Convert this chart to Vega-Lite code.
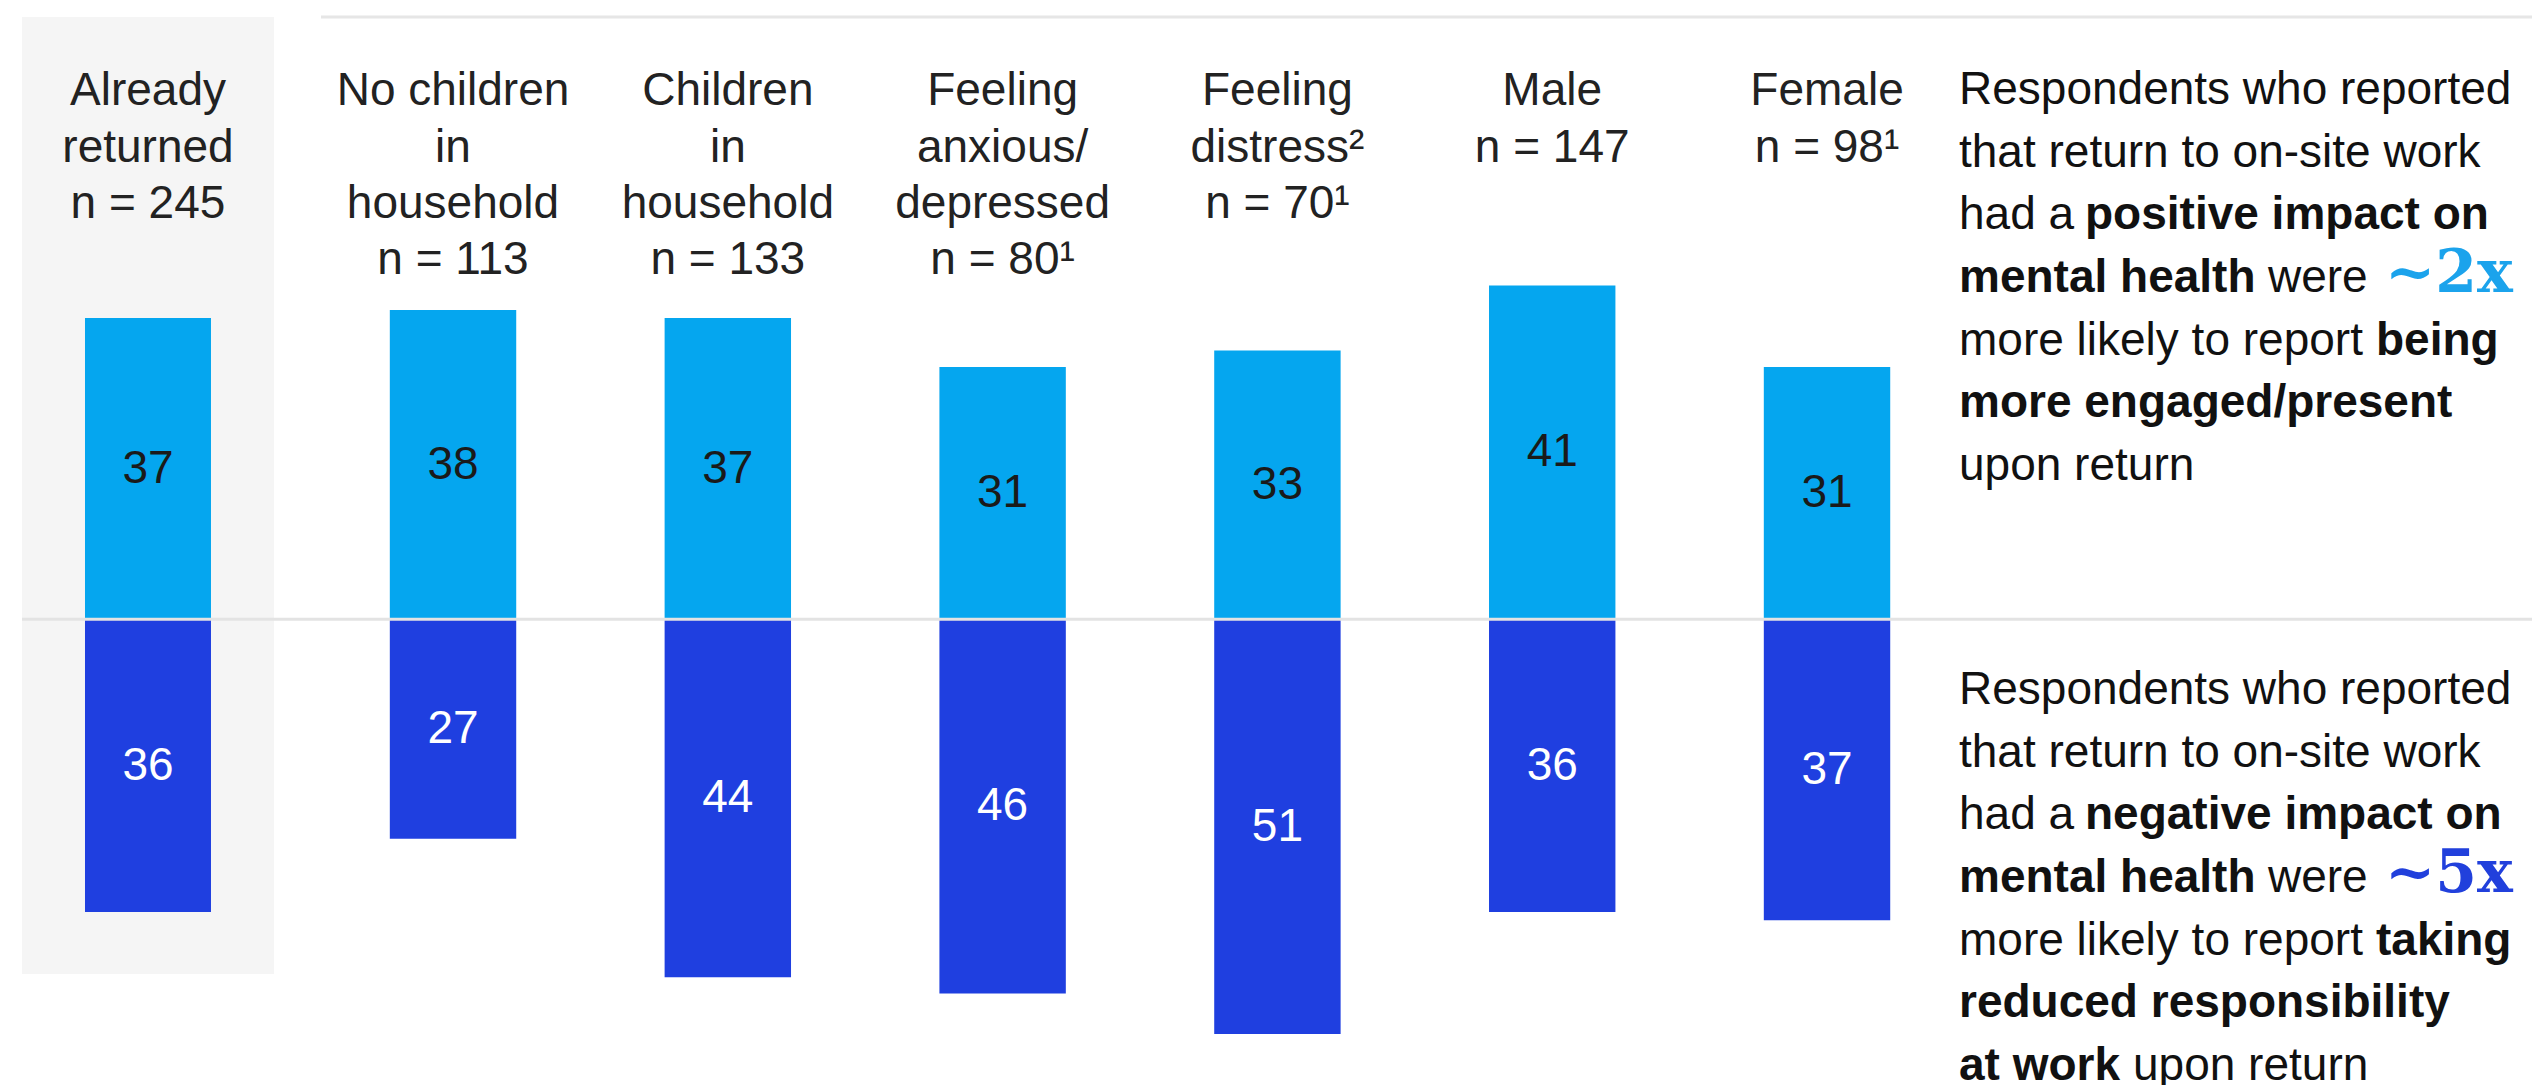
{
  "$schema": "https://vega.github.io/schema/vega-lite/v6.json",
  "padding": {"left": 20, "top": 15, "right": 0, "bottom": 0},
  "background": "white",
  "spacing": 0,
  "bounds": "flush",
  "config": {
    "view": {"stroke": null},
    "font": "Liberation Sans",
    "style": {
      "note": {"align": "left", "baseline": "alphabetic", "fontSize": 46, "lineHeight": 62.7, "color": "#111111", "fontWeight": "normal"},
      "noteb": {"align": "left", "baseline": "alphabetic", "fontSize": 46, "lineHeight": 62.7, "color": "#111111", "fontWeight": "bold"},
      "big": {"align": "left", "baseline": "alphabetic", "fontSize": 60, "font": "DejaVu Serif", "fontWeight": "bold"}
    }
  },
  "datasets": {
    "bars": [
      {"group": "Already returned", "impact": "Positive", "value": 37},
      {"group": "Already returned", "impact": "Negative", "value": 36},
      {"group": "No children in household", "impact": "Positive", "value": 38},
      {"group": "No children in household", "impact": "Negative", "value": 27},
      {"group": "Children in household", "impact": "Positive", "value": 37},
      {"group": "Children in household", "impact": "Negative", "value": 44},
      {"group": "Feeling anxious/depressed", "impact": "Positive", "value": 31},
      {"group": "Feeling anxious/depressed", "impact": "Negative", "value": 46},
      {"group": "Feeling distress", "impact": "Positive", "value": 33},
      {"group": "Feeling distress", "impact": "Negative", "value": 51},
      {"group": "Male", "impact": "Positive", "value": 41},
      {"group": "Male", "impact": "Negative", "value": 36},
      {"group": "Female", "impact": "Positive", "value": 31},
      {"group": "Female", "impact": "Negative", "value": 37}
    ],
    "headers": [
      {"group": "Already returned", "label": "Already\nreturned\nn = 245"},
      {"group": "No children in household", "label": "No children\nin\nhousehold\nn = 113"},
      {"group": "Children in household", "label": "Children\nin\nhousehold\nn = 133"},
      {"group": "Feeling anxious/depressed", "label": "Feeling\nanxious/\ndepressed\nn = 80¹"},
      {"group": "Feeling distress", "label": "Feeling\ndistress²\nn = 70¹"},
      {"group": "Male", "label": "Male\nn = 147"},
      {"group": "Female", "label": "Female\nn = 98¹"}
    ]
  },
  "hconcat": [
    {
      "width": 299,
      "height": 1070,
      "resolve": {"scale": {"y": "independent"}},
      "layer": [
        {
          "data": {"name": "headers"},
          "transform": [{"filter": "datum.group === 'Already returned'"}],
          "mark": {"type": "rect", "color": "#f5f5f5"},
          "encoding": {
            "x": {"field": "group", "type": "nominal", "axis": null, "scale": {"type": "band", "domain": ["Already returned"], "paddingInner": 0, "paddingOuter": 0.0933, "align": 0, "round": false}},
            "y": {"datum": 74, "type": "quantitative", "axis": null, "scale": {"domain": [-57.5, 74], "nice": false, "zero": false}},
            "y2": {"datum": -43.6}
          }
        },
        {
          "data": {"name": "bars"},
          "transform": [{"filter": "datum.group === 'Already returned' && datum.impact === 'Positive'"}],
          "mark": {"type": "bar", "color": "#05A6EF", "width": {"band": 0.5}},
          "encoding": {
            "x": {"field": "group", "type": "nominal", "axis": null, "scale": {"type": "band", "domain": ["Already returned"], "paddingInner": 0, "paddingOuter": 0.0933, "align": 0, "round": false}},
            "y": {"field": "value", "type": "quantitative", "axis": null, "scale": {"domain": [-57.5, 74], "nice": false, "zero": false}}
          }
        },
        {
          "data": {"name": "bars"},
          "transform": [{"filter": "datum.group === 'Already returned' && datum.impact === 'Negative'"}],
          "mark": {"type": "bar", "color": "#1F3FE0", "width": {"band": 0.5}},
          "encoding": {
            "x": {"field": "group", "type": "nominal", "axis": null, "scale": {"type": "band", "domain": ["Already returned"], "paddingInner": 0, "paddingOuter": 0.0933, "align": 0, "round": false}},
            "y": {"field": "value", "type": "quantitative", "axis": null, "scale": {"domain": [-74, 57.5], "reverse": true, "nice": false, "zero": false}}
          }
        },
        {
          "data": {"values": [{}]},
          "mark": {"type": "rule", "color": "#e3e3e3", "strokeWidth": 3},
          "encoding": {
            "y": {"datum": 0, "type": "quantitative", "axis": null, "scale": {"domain": [-57.5, 74], "nice": false, "zero": false}}
          }
        },
        {
          "data": {"name": "bars"},
          "transform": [{"filter": "datum.group === 'Already returned' && datum.impact === 'Positive'"}],
          "mark": {"type": "text", "fontSize": 46, "color": "#1a1a1a", "baseline": "middle", "align": "center"},
          "encoding": {
            "x": {"field": "group", "type": "nominal", "axis": null, "scale": {"type": "band", "domain": ["Already returned"], "paddingInner": 0, "paddingOuter": 0.0933, "align": 0, "round": false}},
            "y": {"field": "value", "type": "quantitative", "axis": null, "scale": {"domain": [-115, 148], "nice": false, "zero": false}},
            "text": {"field": "value", "type": "quantitative"}
          }
        },
        {
          "data": {"name": "bars"},
          "transform": [{"filter": "datum.group === 'Already returned' && datum.impact === 'Negative'"}],
          "mark": {"type": "text", "fontSize": 46, "color": "#ffffff", "baseline": "middle", "align": "center"},
          "encoding": {
            "x": {"field": "group", "type": "nominal", "axis": null, "scale": {"type": "band", "domain": ["Already returned"], "paddingInner": 0, "paddingOuter": 0.0933, "align": 0, "round": false}},
            "y": {"field": "value", "type": "quantitative", "axis": null, "scale": {"domain": [-148, 115], "reverse": true, "nice": false, "zero": false}},
            "text": {"field": "value", "type": "quantitative"}
          }
        },
        {
          "data": {"name": "headers"},
          "transform": [{"filter": "datum.group === 'Already returned'"}],
          "mark": {"type": "text", "fontSize": 46, "color": "#222222", "align": "center", "baseline": "alphabetic", "lineBreak": "\n", "lineHeight": 56.3},
          "encoding": {
            "x": {"field": "group", "type": "nominal", "axis": null, "scale": {"type": "band", "domain": ["Already returned"], "paddingInner": 0, "paddingOuter": 0.0933, "align": 0, "round": false}},
            "y": {"datum": 63.15, "type": "quantitative", "axis": null, "scale": {"domain": [-57.5, 74], "nice": false, "zero": false}},
            "text": {"field": "label", "type": "nominal"}
          }
        }
      ]
    },
    {
      "width": 1630,
      "height": 1070,
      "resolve": {"scale": {"y": "independent"}},
      "layer": [
        {
          "data": {"values": [{}]},
          "mark": {"type": "rule", "color": "#e6e6e6", "strokeWidth": 3},
          "encoding": {
            "y": {"datum": 74, "type": "quantitative", "axis": null, "scale": {"domain": [-57.5, 74], "nice": false, "zero": false}}
          }
        },
        {
          "data": {"name": "bars"},
          "transform": [{"filter": "datum.group !== 'Already returned' && datum.impact === 'Positive'"}],
          "mark": {"type": "bar", "color": "#05A6EF"},
          "encoding": {
            "x": {"field": "group", "type": "nominal", "axis": null, "scale": {"type": "band", "domain": ["No children in household", "Children in household", "Feeling anxious/depressed", "Feeling distress", "Male", "Female"], "paddingInner": 0.54, "paddingOuter": 0.2358, "align": 0.531, "round": false}},
            "y": {"field": "value", "type": "quantitative", "axis": null, "scale": {"domain": [-57.5, 74], "nice": false, "zero": false}}
          }
        },
        {
          "data": {"name": "bars"},
          "transform": [{"filter": "datum.group !== 'Already returned' && datum.impact === 'Negative'"}],
          "mark": {"type": "bar", "color": "#1F3FE0"},
          "encoding": {
            "x": {"field": "group", "type": "nominal", "axis": null, "scale": {"type": "band", "domain": ["No children in household", "Children in household", "Feeling anxious/depressed", "Feeling distress", "Male", "Female"], "paddingInner": 0.54, "paddingOuter": 0.2358, "align": 0.531, "round": false}},
            "y": {"field": "value", "type": "quantitative", "axis": null, "scale": {"domain": [-74, 57.5], "reverse": true, "nice": false, "zero": false}}
          }
        },
        {
          "data": {"values": [{}]},
          "mark": {"type": "rule", "color": "#e3e3e3", "strokeWidth": 3},
          "encoding": {
            "y": {"datum": 0, "type": "quantitative", "axis": null, "scale": {"domain": [-57.5, 74], "nice": false, "zero": false}}
          }
        },
        {
          "data": {"name": "bars"},
          "transform": [{"filter": "datum.group !== 'Already returned' && datum.impact === 'Positive'"}],
          "mark": {"type": "text", "fontSize": 46, "color": "#1a1a1a", "baseline": "middle", "align": "center"},
          "encoding": {
            "x": {"field": "group", "type": "nominal", "axis": null, "scale": {"type": "band", "domain": ["No children in household", "Children in household", "Feeling anxious/depressed", "Feeling distress", "Male", "Female"], "paddingInner": 0.54, "paddingOuter": 0.2358, "align": 0.531, "round": false}},
            "y": {"field": "value", "type": "quantitative", "axis": null, "scale": {"domain": [-115, 148], "nice": false, "zero": false}},
            "text": {"field": "value", "type": "quantitative"}
          }
        },
        {
          "data": {"name": "bars"},
          "transform": [{"filter": "datum.group !== 'Already returned' && datum.impact === 'Negative'"}],
          "mark": {"type": "text", "fontSize": 46, "color": "#ffffff", "baseline": "middle", "align": "center"},
          "encoding": {
            "x": {"field": "group", "type": "nominal", "axis": null, "scale": {"type": "band", "domain": ["No children in household", "Children in household", "Feeling anxious/depressed", "Feeling distress", "Male", "Female"], "paddingInner": 0.54, "paddingOuter": 0.2358, "align": 0.531, "round": false}},
            "y": {"field": "value", "type": "quantitative", "axis": null, "scale": {"domain": [-148, 115], "reverse": true, "nice": false, "zero": false}},
            "text": {"field": "value", "type": "quantitative"}
          }
        },
        {
          "data": {"name": "headers"},
          "transform": [{"filter": "datum.group !== 'Already returned'"}],
          "mark": {"type": "text", "fontSize": 46, "color": "#222222", "align": "center", "baseline": "alphabetic", "lineBreak": "\n", "lineHeight": 56.3},
          "encoding": {
            "x": {"field": "group", "type": "nominal", "axis": null, "scale": {"type": "band", "domain": ["No children in household", "Children in household", "Feeling anxious/depressed", "Feeling distress", "Male", "Female"], "paddingInner": 0.54, "paddingOuter": 0.2358, "align": 0.531, "round": false}},
            "y": {"datum": 63.15, "type": "quantitative", "axis": null, "scale": {"domain": [-57.5, 74], "nice": false, "zero": false}},
            "text": {"field": "label", "type": "nominal"}
          }
        }
      ]
    },
    {
      "width": 583,
      "height": 1070,
      "data": {"values": [{}]},
      "layer": [
        {"mark": {"type": "rule", "color": "#e6e6e6", "strokeWidth": 3},
         "encoding": {"y": {"datum": 74, "type": "quantitative", "axis": null, "scale": {"domain": [-57.5, 74], "nice": false, "zero": false}}}},
        {"mark": {"type": "rule", "color": "#e3e3e3", "strokeWidth": 3},
         "encoding": {"y": {"datum": 0, "type": "quantitative", "axis": null, "scale": {"domain": [-57.5, 74], "nice": false, "zero": false}}}},

        {"mark": {"type": "text", "style": "note"},
         "encoding": {"x": {"datum": 8, "type": "quantitative", "axis": null, "scale": {"domain": [0, 583], "nice": false, "zero": false}},
                      "y": {"datum": 63.308, "type": "quantitative", "axis": null, "scale": {"domain": [-57.5, 74], "nice": false, "zero": false}},
                      "text": {"value": ["Respondents who reported", "that return to on-site work"]}}},
        {"mark": {"type": "text", "style": "note"},
         "encoding": {"x": {"datum": 8, "type": "quantitative", "axis": null, "scale": {"domain": [0, 583], "nice": false, "zero": false}},
                      "y": {"datum": 47.897, "type": "quantitative", "axis": null, "scale": {"domain": [-57.5, 74], "nice": false, "zero": false}},
                      "text": {"value": "had a"}}},
        {"mark": {"type": "text", "style": "noteb"},
         "encoding": {"x": {"datum": 134, "type": "quantitative", "axis": null, "scale": {"domain": [0, 583], "nice": false, "zero": false}},
                      "y": {"datum": 47.897, "type": "quantitative", "axis": null, "scale": {"domain": [-57.5, 74], "nice": false, "zero": false}},
                      "text": {"value": "positive impact on"}}},
        {"mark": {"type": "text", "style": "noteb"},
         "encoding": {"x": {"datum": 8, "type": "quantitative", "axis": null, "scale": {"domain": [0, 583], "nice": false, "zero": false}},
                      "y": {"datum": 40.191, "type": "quantitative", "axis": null, "scale": {"domain": [-57.5, 74], "nice": false, "zero": false}},
                      "text": {"value": "mental health"}}},
        {"mark": {"type": "text", "style": "note"},
         "encoding": {"x": {"datum": 317, "type": "quantitative", "axis": null, "scale": {"domain": [0, 583], "nice": false, "zero": false}},
                      "y": {"datum": 40.191, "type": "quantitative", "axis": null, "scale": {"domain": [-57.5, 74], "nice": false, "zero": false}},
                      "text": {"value": "were"}}},
        {"mark": {"type": "text", "style": "big", "color": "#1BA3EC"},
         "encoding": {"x": {"datum": 434, "type": "quantitative", "axis": null, "scale": {"domain": [0, 583], "nice": false, "zero": false}},
                      "y": {"datum": 40.191, "type": "quantitative", "axis": null, "scale": {"domain": [-57.5, 74], "nice": false, "zero": false}},
                      "text": {"value": "~2x"}}},
        {"mark": {"type": "text", "style": "note"},
         "encoding": {"x": {"datum": 8, "type": "quantitative", "axis": null, "scale": {"domain": [0, 583], "nice": false, "zero": false}},
                      "y": {"datum": 32.485, "type": "quantitative", "axis": null, "scale": {"domain": [-57.5, 74], "nice": false, "zero": false}},
                      "text": {"value": "more likely to report"}}},
        {"mark": {"type": "text", "style": "noteb"},
         "encoding": {"x": {"datum": 425, "type": "quantitative", "axis": null, "scale": {"domain": [0, 583], "nice": false, "zero": false}},
                      "y": {"datum": 32.485, "type": "quantitative", "axis": null, "scale": {"domain": [-57.5, 74], "nice": false, "zero": false}},
                      "text": {"value": "being"}}},
        {"mark": {"type": "text", "style": "noteb"},
         "encoding": {"x": {"datum": 8, "type": "quantitative", "axis": null, "scale": {"domain": [0, 583], "nice": false, "zero": false}},
                      "y": {"datum": 24.78, "type": "quantitative", "axis": null, "scale": {"domain": [-57.5, 74], "nice": false, "zero": false}},
                      "text": {"value": "more engaged/present"}}},
        {"mark": {"type": "text", "style": "note"},
         "encoding": {"x": {"datum": 8, "type": "quantitative", "axis": null, "scale": {"domain": [0, 583], "nice": false, "zero": false}},
                      "y": {"datum": 17.074, "type": "quantitative", "axis": null, "scale": {"domain": [-57.5, 74], "nice": false, "zero": false}},
                      "text": {"value": "upon return"}}},

        {"mark": {"type": "text", "style": "note"},
         "encoding": {"x": {"datum": 8, "type": "quantitative", "axis": null, "scale": {"domain": [0, 583], "nice": false, "zero": false}},
                      "y": {"datum": -10.43, "type": "quantitative", "axis": null, "scale": {"domain": [-57.5, 74], "nice": false, "zero": false}},
                      "text": {"value": ["Respondents who reported", "that return to on-site work"]}}},
        {"mark": {"type": "text", "style": "note"},
         "encoding": {"x": {"datum": 8, "type": "quantitative", "axis": null, "scale": {"domain": [0, 583], "nice": false, "zero": false}},
                      "y": {"datum": -25.841, "type": "quantitative", "axis": null, "scale": {"domain": [-57.5, 74], "nice": false, "zero": false}},
                      "text": {"value": "had a"}}},
        {"mark": {"type": "text", "style": "noteb"},
         "encoding": {"x": {"datum": 134, "type": "quantitative", "axis": null, "scale": {"domain": [0, 583], "nice": false, "zero": false}},
                      "y": {"datum": -25.841, "type": "quantitative", "axis": null, "scale": {"domain": [-57.5, 74], "nice": false, "zero": false}},
                      "text": {"value": "negative impact on"}}},
        {"mark": {"type": "text", "style": "noteb"},
         "encoding": {"x": {"datum": 8, "type": "quantitative", "axis": null, "scale": {"domain": [0, 583], "nice": false, "zero": false}},
                      "y": {"datum": -33.547, "type": "quantitative", "axis": null, "scale": {"domain": [-57.5, 74], "nice": false, "zero": false}},
                      "text": {"value": "mental health"}}},
        {"mark": {"type": "text", "style": "note"},
         "encoding": {"x": {"datum": 317, "type": "quantitative", "axis": null, "scale": {"domain": [0, 583], "nice": false, "zero": false}},
                      "y": {"datum": -33.547, "type": "quantitative", "axis": null, "scale": {"domain": [-57.5, 74], "nice": false, "zero": false}},
                      "text": {"value": "were"}}},
        {"mark": {"type": "text", "style": "big", "color": "#2140DC"},
         "encoding": {"x": {"datum": 434, "type": "quantitative", "axis": null, "scale": {"domain": [0, 583], "nice": false, "zero": false}},
                      "y": {"datum": -33.547, "type": "quantitative", "axis": null, "scale": {"domain": [-57.5, 74], "nice": false, "zero": false}},
                      "text": {"value": "~5x"}}},
        {"mark": {"type": "text", "style": "note"},
         "encoding": {"x": {"datum": 8, "type": "quantitative", "axis": null, "scale": {"domain": [0, 583], "nice": false, "zero": false}},
                      "y": {"datum": -41.252, "type": "quantitative", "axis": null, "scale": {"domain": [-57.5, 74], "nice": false, "zero": false}},
                      "text": {"value": "more likely to report"}}},
        {"mark": {"type": "text", "style": "noteb"},
         "encoding": {"x": {"datum": 425, "type": "quantitative", "axis": null, "scale": {"domain": [0, 583], "nice": false, "zero": false}},
                      "y": {"datum": -41.252, "type": "quantitative", "axis": null, "scale": {"domain": [-57.5, 74], "nice": false, "zero": false}},
                      "text": {"value": "taking"}}},
        {"mark": {"type": "text", "style": "noteb"},
         "encoding": {"x": {"datum": 8, "type": "quantitative", "axis": null, "scale": {"domain": [0, 583], "nice": false, "zero": false}},
                      "y": {"datum": -48.958, "type": "quantitative", "axis": null, "scale": {"domain": [-57.5, 74], "nice": false, "zero": false}},
                      "text": {"value": ["reduced responsibility", "at work"]}}},
        {"mark": {"type": "text", "style": "note"},
         "encoding": {"x": {"datum": 182, "type": "quantitative", "axis": null, "scale": {"domain": [0, 583], "nice": false, "zero": false}},
                      "y": {"datum": -56.664, "type": "quantitative", "axis": null, "scale": {"domain": [-57.5, 74], "nice": false, "zero": false}},
                      "text": {"value": "upon return"}}}
      ]
    }
  ]
}
